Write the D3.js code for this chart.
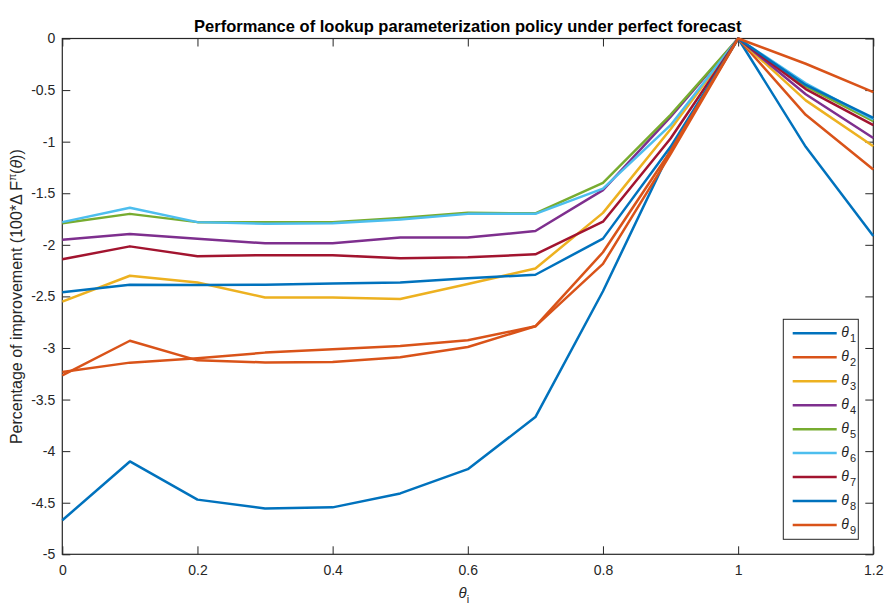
<!DOCTYPE html>
<html>
<head>
<meta charset="utf-8">
<script src="https://cdn.jsdelivr.net/npm/d3@7"></script>
<style>
body { margin: 0; background: #fff; }
text { font-family: "Liberation Sans", Arial, Helvetica, sans-serif; }
</style>
</head>
<body>
<div id="canvas"></div>
<script>
// ----------------------------------------------------------
// DATA -----------------------------------------------------
// ----------------------------------------------------------

var theta_i = [0, 0.1, 0.2, 0.3, 0.4, 0.5, 0.6, 0.7, 0.8, 0.9, 1.0, 1.1, 1.2];

var series_names = ["θ1", "θ2", "θ3", "θ4", "θ5", "θ6", "θ7", "θ8", "θ9"];

var theta_1 = [-4.67, -4.10, -4.47, -4.555, -4.545, -4.41, -4.175, -3.67, -2.45, -1.08, 0, -1.05, -1.915];
var theta_2 = [-3.265, -2.93, -3.12, -3.14, -3.135, -3.09, -2.99, -2.79, -2.185, -1.12, 0, -0.74, -1.27];
var theta_3 = [-2.55, -2.30, -2.365, -2.51, -2.51, -2.525, -2.38, -2.23, -1.69, -0.88, 0, -0.60, -1.045];
var theta_4 = [-1.95, -1.895, -1.94, -1.985, -1.985, -1.93, -1.93, -1.866, -1.47, -0.76, 0, -0.54, -0.965];
var theta_5 = [-1.79, -1.70, -1.78, -1.78, -1.78, -1.74, -1.69, -1.695, -1.40, -0.74, 0, -0.465, -0.80];
var theta_6 = [-1.78, -1.64, -1.78, -1.795, -1.79, -1.755, -1.70, -1.70, -1.455, -0.84, 0, -0.435, -0.785];
var theta_7 = [-2.14, -2.015, -2.11, -2.10, -2.10, -2.13, -2.12, -2.092, -1.776, -0.97, 0, -0.49, -0.84];
var theta_8 = [-2.46, -2.387, -2.39, -2.386, -2.376, -2.365, -2.325, -2.29, -1.94, -1.05, 0, -0.45, -0.77];
var theta_9 = [-3.233, -3.142, -3.10, -3.045, -3.013, -2.98, -2.925, -2.79, -2.072, -1.09, 0, -0.245, -0.52];

var x_ticks = [0, 0.2, 0.4, 0.6, 0.8, 1, 1.2];
var y_ticks = [-5, -4.5, -4, -3.5, -3, -2.5, -2, -1.5, -1, -0.5, 0];


// ----------------------------------------------------------
// SETTINGS -------------------------------------------------
// ----------------------------------------------------------

var data_set =
{
container_width: 896,
container_height: 615,
plot_left: 62.3,
plot_top: 38.5,
plot_width: 811,
plot_height: 515.8,
tick_length: 8,
line_width: 2.5,
color_axis: "#262626",
color_text: "#262626"
};

// matlab default color order, wraps after 7
var line_colors = ["#0072BD", "#D95319", "#EDB120", "#7E2F8E", "#77AC30", "#4DBEEE", "#A2142F", "#0072BD", "#D95319"];

var all_series = [theta_1, theta_2, theta_3, theta_4, theta_5, theta_6, theta_7, theta_8, theta_9];

var data_lines = all_series.map(function (values, i) {
return {
name: series_names[i],
color: line_colors[i],
points: values.map(function (v, j) { return { x: theta_i[j], y: v }; })
};
});


// ----------------------------------------------------------
// STRUCTURE ------------------------------------------------
// ----------------------------------------------------------

var width = data_set.plot_width;
var height = data_set.plot_height;

var container = d3.select("#canvas").append("svg")
.attr("width", data_set.container_width)
.attr("height", data_set.container_height)
.style("background-color", "#fff")
.style("display", "block");

var plot_group = container.append("g")
.attr("class", "plot_group")
.attr("transform", `translate(${data_set.plot_left}, ${data_set.plot_top})`);

var text_group = container.append("g")
.attr("class", "text_group");


// ----------------------------------------------------------
// SCALES + AXES --------------------------------------------
// ----------------------------------------------------------

var xScale = d3.scaleLinear()
.domain([0, 1.2])
.range([0, width]);

var yScale = d3.scaleLinear()
.domain([-5, 0])
.range([height, 0]);

var fmt = function (d) { return String(+d.toFixed(2)); };

// bottom axis, ticks pointing inside
var x_axis = plot_group.append("g")
.attr("class", "x_axis")
.attr("transform", `translate(0, ${height})`)
.call(d3.axisBottom(xScale).tickValues(x_ticks).tickFormat(fmt)
.tickSizeInner(-data_set.tick_length).tickSizeOuter(0).tickPadding(11));

// top axis, ticks only
var x_axis_top = plot_group.append("g")
.attr("class", "x_axis_top")
.call(d3.axisTop(xScale).tickValues(x_ticks).tickFormat("")
.tickSizeInner(-data_set.tick_length).tickSizeOuter(0));

// left axis
var y_axis = plot_group.append("g")
.attr("class", "y_axis")
.call(d3.axisLeft(yScale).tickValues(y_ticks).tickFormat(fmt)
.tickSizeInner(-data_set.tick_length).tickSizeOuter(0).tickPadding(7));

// right axis, ticks only
var y_axis_right = plot_group.append("g")
.attr("class", "y_axis_right")
.attr("transform", `translate(${width}, 0)`)
.call(d3.axisRight(yScale).tickValues(y_ticks).tickFormat("")
.tickSizeInner(-data_set.tick_length).tickSizeOuter(0));

plot_group.selectAll(".domain").remove();
plot_group.selectAll(".tick line")
.attr("stroke", data_set.color_axis)
.attr("stroke-width", 1);
plot_group.selectAll(".tick text")
.style("font-size", "14px")
.attr("fill", data_set.color_text);

// box round the axes
plot_group.append("rect")
.attr("class", "axes_box")
.attr("x", 0)
.attr("y", 0)
.attr("width", width)
.attr("height", height)
.attr("fill", "none")
.attr("stroke", data_set.color_axis)
.attr("stroke-width", 1.2);


// ----------------------------------------------------------
// GFX ------------------------------------------------------
// ----------------------------------------------------------

var line_gen = d3.line()
.x(function (d) { return xScale(d.x); })
.y(function (d) { return yScale(d.y); });

plot_group.selectAll(".gfx_line")
.data(data_lines)
.enter()
.append("path")
.attr("class", "gfx_line")
.attr("d", function (d) { return line_gen(d.points); })
.attr("fill", "none")
.attr("stroke", function (d) { return d.color; })
.attr("stroke-width", data_set.line_width)
.attr("stroke-linejoin", "round");


// ----------------------------------------------------------
// LEGEND ---------------------------------------------------
// ----------------------------------------------------------

var legend_x = 783.3;
var legend_y = 319.3;
var legend_row = 23.96;

var legend_group = container.append("g")
.attr("class", "legend_group");

legend_group.append("rect")
.attr("x", legend_x)
.attr("y", legend_y)
.attr("width", 75)
.attr("height", 220)
.attr("fill", "#fff")
.attr("stroke", data_set.color_axis)
.attr("stroke-width", 1);

var legend_item = legend_group.selectAll(".legend_item")
.data(data_lines)
.enter()
.append("g")
.attr("class", "legend_item")
.attr("transform", function (d, i) { return `translate(0, ${legend_y + 14 + i * legend_row})`; });

legend_item.append("line")
.attr("x1", legend_x + 9.4)
.attr("x2", legend_x + 53.4)
.attr("y1", 0)
.attr("y2", 0)
.attr("stroke", function (d) { return d.color; })
.attr("stroke-width", data_set.line_width);

var legend_text = legend_item.append("text")
.attr("x", legend_x + 58)
.attr("y", 4)
.attr("fill", data_set.color_text);

legend_text.append("tspan")
.style("font-size", "14px")
.style("font-style", "italic")
.text(function (d) { return d.name.charAt(0); });

legend_text.append("tspan")
.attr("dx", 1)
.attr("dy", 5)
.style("font-size", "11px")
.text(function (d) { return d.name.slice(1); });


// ----------------------------------------------------------
// TEXT -----------------------------------------------------
// ----------------------------------------------------------

// title
text_group.append("text")
.attr("class", "text_headline")
.attr("x", data_set.plot_left + width / 2)
.attr("y", 31.5)
.attr("text-anchor", "middle")
.style("font-size", "16.5px")
.style("font-weight", "bold")
.attr("fill", "#000")
.text("Performance of lookup parameterization policy under perfect forecast");

// x label
var x_label = text_group.append("text")
.attr("class", "text_xlabel")
.attr("x", data_set.plot_left + width / 2 - 4)
.attr("y", 598)
.attr("text-anchor", "middle")
.attr("fill", data_set.color_text);

x_label.append("tspan")
.style("font-size", "15px")
.style("font-style", "italic")
.text("θ");

x_label.append("tspan")
.attr("dy", 5)
.style("font-size", "11px")
.text("i");

// y label
var y_label = text_group.append("text")
.attr("class", "text_ylabel")
.attr("transform", "translate(22, 296.7) rotate(-90)")
.attr("text-anchor", "middle")
.style("font-size", "16px")
.attr("fill", data_set.color_text);

y_label.append("tspan").text("Percentage of improvement (100*Δ F");
y_label.append("tspan")
.attr("dy", -6)
.style("font-size", "10px")
.text("π");
y_label.append("tspan")
.attr("dy", 6)
.text("(");
y_label.append("tspan")
.style("font-style", "italic")
.text("θ");
y_label.append("tspan").text("))");
</script>
</body>
</html>
